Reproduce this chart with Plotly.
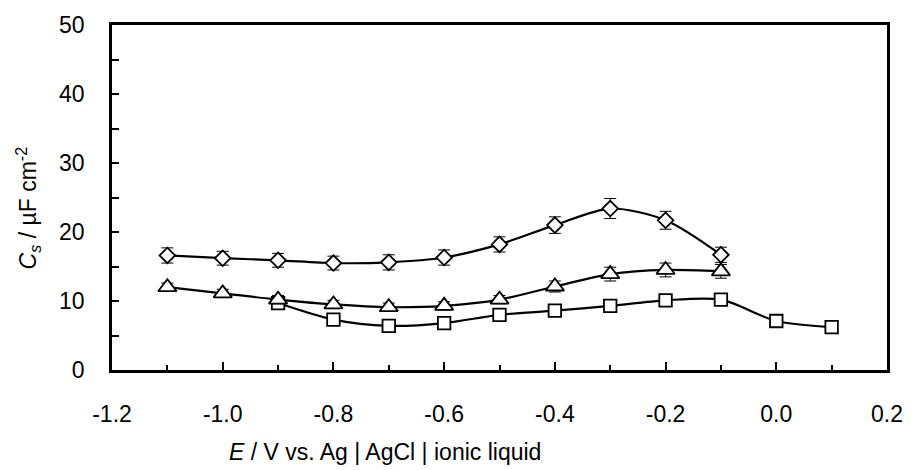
import plotly.graph_objects as go

x_diamond = [-1.1, -1.0, -0.9, -0.8, -0.7, -0.6, -0.5, -0.4, -0.3, -0.2, -0.1]
y_diamond = [16.6, 16.2, 15.9, 15.5, 15.6, 16.3, 18.2, 21.0, 23.4, 21.7, 16.7]
e_diamond = [1.1, 1.0, 1.0, 1.0, 1.1, 1.1, 1.1, 1.2, 1.45, 1.3, 1.1]

x_triangle = [-1.1, -1.0, -0.9, -0.8, -0.7, -0.6, -0.5, -0.4, -0.3, -0.2, -0.1]
y_triangle = [12.0, 11.1, 10.2, 9.5, 9.1, 9.3, 10.2, 12.1, 13.9, 14.5, 14.3]
e_triangle = [0.6, 0.6, 0.6, 0.6, 0.6, 0.6, 0.6, 0.8, 1.0, 1.0, 1.0]

x_square = [-0.9, -0.8, -0.7, -0.6, -0.5, -0.4, -0.3, -0.2, -0.1, 0.0, 0.1]
y_square = [9.7, 7.3, 6.4, 6.8, 8.0, 8.6, 9.3, 10.1, 10.2, 7.1, 6.2]
e_square = [0.5, 0.5, 0.5, 0.5, 0.5, 0.5, 0.5, 0.5, 0.5, 0.5, 0.5]

x_ticks = [-1.2, -1.0, -0.8, -0.6, -0.4, -0.2, 0.0, 0.2]
x_ticklabels = ["-1.2", "-1.0", "-0.8", "-0.6", "-0.4", "-0.2", "0.0", "0.2"]
y_ticks = [0, 10, 20, 30, 40, 50]

fig = go.Figure()

def add(xs, ys, es, sym, size):
    fig.add_trace(go.Scatter(
        x=xs, y=ys, mode="lines+markers",
        line=dict(color="black", width=2.2, shape="spline", smoothing=0.8),
        marker=dict(symbol=sym, size=size, color="white",
                    line=dict(color="black", width=1.8)),
        error_y=dict(type="data", array=es, visible=True, color="black",
                     thickness=1, width=6),
        showlegend=False,
    ))

add(x_square, y_square, e_square, "square", 12.5)
add(x_triangle, y_triangle, e_triangle, "triangle-up", 16)
add(x_diamond, y_diamond, e_diamond, "diamond", 12)

font = "Liberation Sans, Arial, sans-serif"
fs = 23

fig.update_layout(
    width=915, height=470,
    margin=dict(l=112, r=21, t=21, b=100),
    paper_bgcolor="white", plot_bgcolor="white",
    font=dict(family=font, size=fs, color="black"),
    hovermode=False,
)

fig.update_xaxes(
    range=[-1.2, 0.2], tickvals=x_ticks, ticktext=x_ticklabels,
    showline=True, linecolor="black", linewidth=2.5, mirror=True,
    ticks="inside", ticklen=8, tickwidth=2, tickcolor="black",
    minor=dict(dtick=0.1, ticks="inside", ticklen=5, tickwidth=2, tickcolor="black"),
    showgrid=False, zeroline=False,
    ticklabelstandoff=22,
    tickfont=dict(size=fs),
)
fig.update_yaxes(
    range=[0, 50], tickvals=y_ticks,
    showline=True, linecolor="black", linewidth=2.5, mirror=True,
    ticks="inside", ticklen=7, tickwidth=2, tickcolor="black",
    minor=dict(dtick=5, ticks="inside", ticklen=7, tickwidth=2, tickcolor="black"),
    showgrid=False, zeroline=False,
    ticklabelstandoff=20,
    tickfont=dict(size=fs),
)

fig.add_annotation(
    text="<i>E</i> / V vs. Ag | AgCl | ionic liquid",
    xref="paper", yref="paper", x=0.352, y=-0.238,
    xanchor="center", yanchor="middle", showarrow=False,
    font=dict(size=fs, family=font),
)
fig.add_annotation(
    text="<i>C<sub>s</sub></i> / µF cm<sup>-2</sup>",
    xref="paper", yref="paper", x=-0.109, y=0.47,
    xanchor="center", yanchor="middle", showarrow=False, textangle=-90,
    font=dict(size=fs, family=font),
)

fig.write_html(
    "out.html",
    config={"displayModeBar": False},
    post_script="document.body.style.margin='0';document.body.style.overflow='hidden';",
)
